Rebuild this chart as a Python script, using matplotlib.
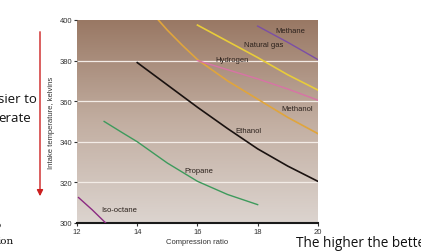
import numpy as np
import matplotlib
matplotlib.use("Agg")
import matplotlib.pyplot as plt
from matplotlib.colors import LinearSegmentedColormap

# Curve data: (compression ratio, intake temperature in K).
methane_x = [18.0, 19.0, 20.0]
methane_y = [397.0, 389.0, 380.5]

natgas_x = [16.0, 17.0, 18.0, 19.0, 20.0]
natgas_y = [397.5, 389.5, 381.5, 373.0, 365.5]

hydrogen_x = [14.7, 15.0, 15.5, 16.0, 17.0, 18.0, 19.0, 20.0]
hydrogen_y = [400.0, 395.0, 387.5, 380.5, 370.0, 361.0, 352.0, 344.0]

methanol_x = [16.0, 17.0, 18.0, 19.0, 20.0]
methanol_y = [380.0, 375.5, 371.0, 366.0, 360.5]

ethanol_x = [14.0, 15.0, 16.0, 17.0, 18.0, 19.0, 20.0]
ethanol_y = [379.0, 368.0, 357.0, 346.5, 336.5, 328.0, 320.5]

propane_x = [12.9, 13.5, 14.0, 15.0, 16.0, 17.0, 18.0]
propane_y = [350.0, 344.5, 340.0, 329.5, 320.5, 314.0, 309.0]

isooctane_x = [12.05, 12.5, 12.95]
isooctane_y = [312.5, 306.5, 300.0]

fuel_labels = ["Methane", "Natural gas", "Hydrogen", "Methanol",
               "Ethanol", "Propane", "Iso-octane"]
label_x = [19.1, 18.2, 17.15, 19.3, 17.7, 16.05, 13.4]
label_y = [395.0, 387.7, 380.3, 356.4, 345.3, 325.6, 306.4]

x_ticks = [12, 14, 16, 18, 20]
y_ticks = [300, 320, 340, 360, 380, 400]

#...figure set-up, same pixel size as the reference.
fig = plt.figure(figsize=(4.21, 2.53), dpi=100, facecolor='w')
ax = fig.add_axes([0.183, 0.115, 0.572, 0.802])

# Brown-to-beige background gradient.
bg = LinearSegmentedColormap.from_list("bg", ["#dcd4cf", "#c2ae a1".replace(" ", ""), "#997864"])
grad = np.linspace(0, 1, 256).reshape(-1, 1)
ax.imshow(grad, cmap=bg, extent=[12, 20, 300, 400], origin='lower',
          aspect='auto', zorder=0)

# White grid lines.
for yv in y_ticks[1:-1]:
    ax.axhline(yv, color='#f3ece6', lw=0.9, zorder=1)

# The fuel curves.
ax.plot(methane_x, methane_y, color='#7b4fa6', lw=1.0, zorder=3)
ax.plot(natgas_x, natgas_y, color='#e8cc3a', lw=1.2, zorder=3)
ax.plot(hydrogen_x, hydrogen_y, color='#e0a53c', lw=1.2, zorder=3)
ax.plot(methanol_x, methanol_y, color='#d873a6', lw=1.0, zorder=3)
ax.plot(ethanol_x, ethanol_y, color='#1a1210', lw=1.2, zorder=3)
ax.plot(propane_x, propane_y, color='#3d9a5c', lw=1.0, zorder=3)
ax.plot(isooctane_x, isooctane_y, color='#8b2a82', lw=1.0, zorder=3)

for name, lx, ly in zip(fuel_labels, label_x, label_y):
    ax.text(lx, ly, name, fontsize=5.5, color='#2b211c', ha='center',
            va='center', family='Liberation Sans', zorder=4)

ax.set_xlim(12, 20)
ax.set_ylim(300, 400)
ax.set_xticks(x_ticks)
ax.set_yticks(y_ticks)
ax.tick_params(labelsize=5.5, length=2, width=0.8, colors='#333333', pad=1.5)
for lbl in ax.get_xticklabels() + ax.get_yticklabels():
    lbl.set_family('Liberation Sans')
for side in ['top', 'right', 'left']:
    ax.spines[side].set_visible(False)
ax.spines['bottom'].set_linewidth(1.5)
ax.spines['bottom'].set_color('#1a1a1a')
ax.set_xlabel("Compression ratio", fontsize=5.5, family='Liberation Sans',
              color='#333333', labelpad=2)
ax.set_ylabel("Intake temperature, kelvins", fontsize=5.5,
              family='Liberation Sans', color='#333333', labelpad=3)

# Slide annotations around the chart.
fig.add_artist(matplotlib.patches.FancyArrowPatch(
    (40 / 421, 1 - 30 / 253), (40 / 421, 1 - 200 / 253),
    transform=fig.transFigure, arrowstyle='-|>', mutation_scale=9,
    color='#cc1f1f', lw=1.0))
fig.text(-0.005, 1 - 100 / 253, "sier to", fontsize=9.5, family='Open Sans',
         va='center', ha='left', color='#111111')
fig.text(-0.005, 1 - 119 / 253, "erate", fontsize=9.5, family='Open Sans',
         va='center', ha='left', color='#111111')
fig.text(-0.012, 1 - 226 / 253, "o", fontsize=7.5, family='DejaVu Serif',
         va='center', ha='left', color='#111111')
fig.text(-0.005, 1 - 242 / 253, "ion", fontsize=7.5, family='DejaVu Serif',
         va='center', ha='left', color='#111111')
fig.text(296 / 421, 1 - 244 / 253, "The higher the better", fontsize=9.8,
         family='Open Sans', va='center', ha='left', color='#111111')

fig.savefig("out.png", dpi=100)
